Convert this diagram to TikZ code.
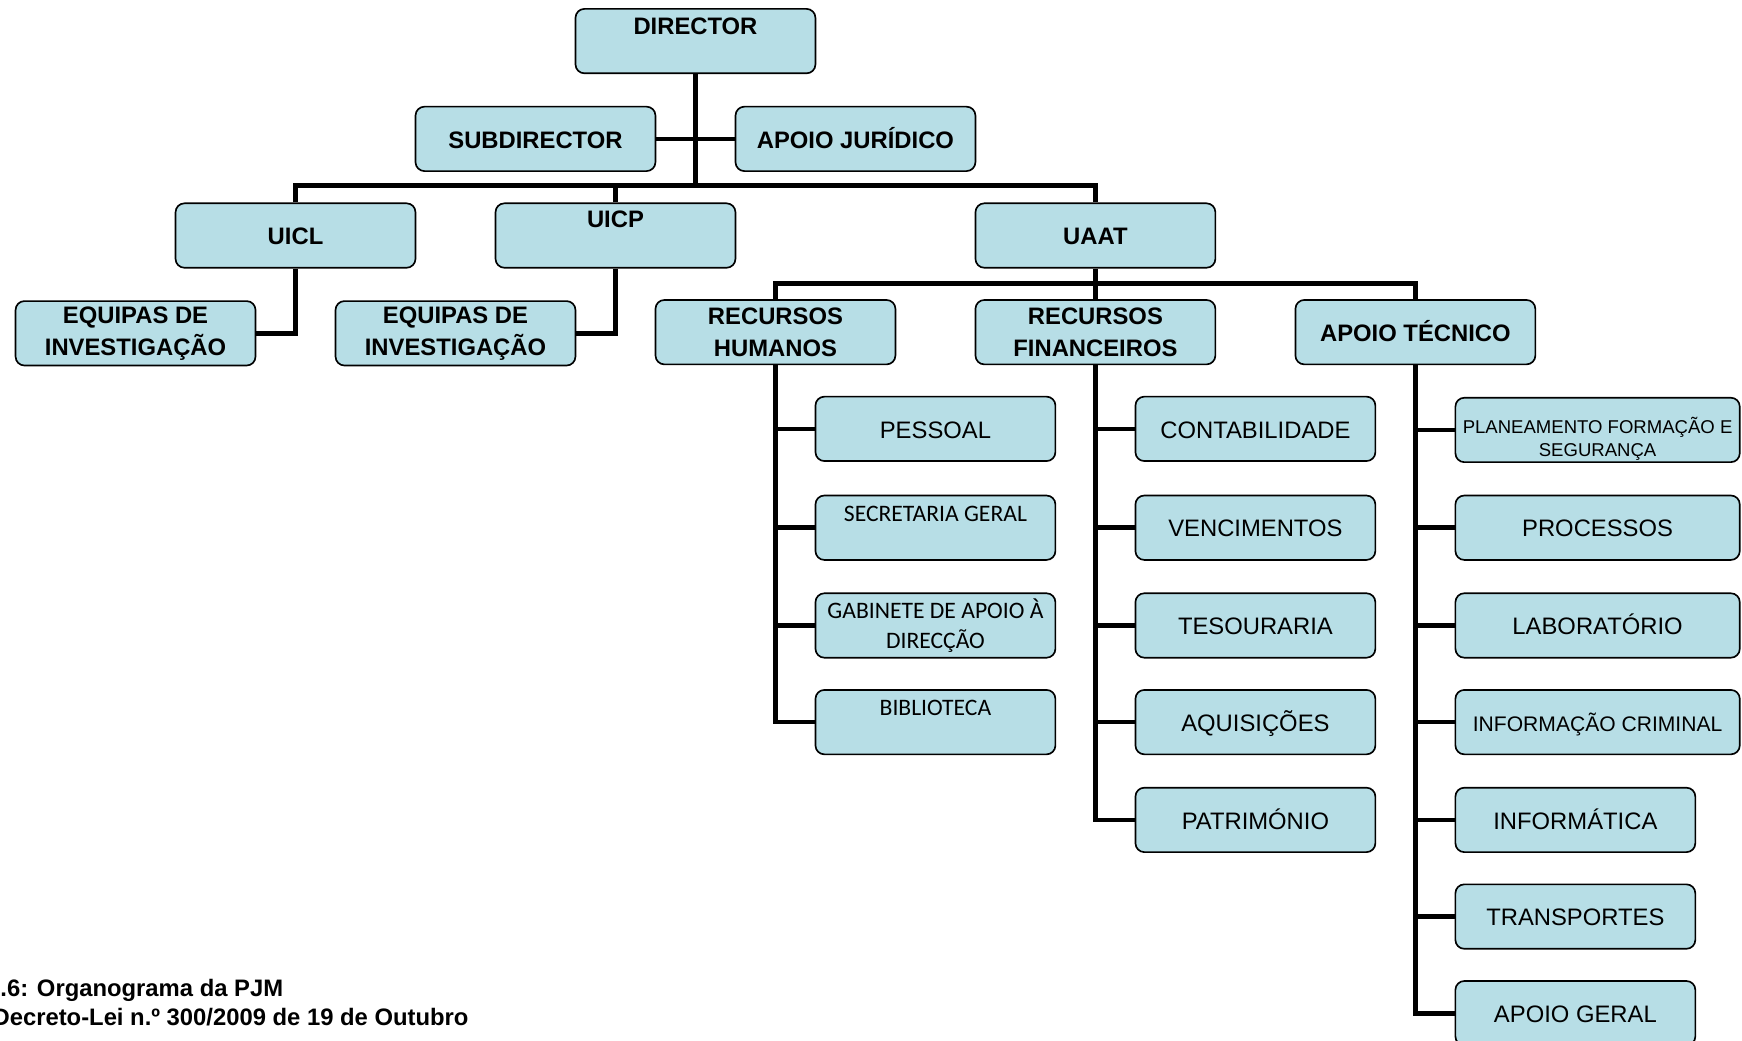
\documentclass[tikz,border=0pt]{standalone}
\usepackage{fontspec}
\setmainfont{Liberation Sans}
\newfontfamily\calibri{Carlito}
\definecolor{boxblue}{RGB}{183,222,230}

\begin{document}
\begin{tikzpicture}[x = 0.02cm, y = -0.02cm]
\tikzstyle{Box}=[draw, line width = 0.85pt, fill = boxblue, rounded corners = 0.16cm,
                 minimum width = 4.32cm, minimum height = 1.16cm,
                 inner sep = 1pt, align = center,
                 text height = 0.95em, text depth = 0pt,
                 font = \fontsize{12.2}{16.4}\selectfont]
\tikzstyle{TwoLines}=[text height = {}, text depth = {}]
\tikzstyle{BoldBox}=[Box, font = \bfseries\fontsize{12.2}{16.4}\selectfont]
\tikzstyle{WideBox}=[Box, minimum width = 5.12cm]
\tikzstyle{CalBox}=[Box, font = \calibri\fontsize{12.1}{15.3}\selectfont]
\tikzstyle{BoldTop}=[anchor = base, inner sep = 0pt, font = \bfseries\fontsize{12.2}{16.4}\selectfont]
\tikzstyle{CalTop}=[anchor = base, inner sep = 0pt, font = \calibri\fontsize{12.1}{15.3}\selectfont]
\tikzstyle{Caption}=[anchor = base west, inner sep = 0pt, font = \bfseries\fontsize{12.2}{14}\selectfont]
\tikzstyle{Link}=[line width = 2.4pt]
\useasboundingbox (0,0) rectangle (1568,937);
\clip (0,0) rectangle (1568,937);

\node[BoldBox] (dir) at (626,37) {};
\node[BoldTop] (dirtext) at ([yshift=-0.47cm]dir.north) {DIRECTOR};
\node[BoldBox] (sub) at (482,125) {SUBDIRECTOR};
\node[BoldBox] (jur) at (770,125) {APOIO JURÍDICO};
\node[BoldBox] (uicl) at (266,212) {UICL};
\node[BoldBox] (uicp) at (554,212) {};
\node[BoldTop] (uicptext) at ([yshift=-0.455cm]uicp.north) {UICP};
\node[BoldBox] (uaat) at (986,212) {UAAT};
\node[BoldBox, TwoLines] (eq1) at (122,300) {EQUIPAS DE\\INVESTIGAÇÃO};
\node[BoldBox, TwoLines] (eq2) at (410,300) {EQUIPAS DE\\INVESTIGAÇÃO};
\node[BoldBox, TwoLines] (rh) at (698,299) {RECURSOS\\HUMANOS};
\node[BoldBox, TwoLines] (rf) at (986,299) {RECURSOS\\FINANCEIROS};
\node[BoldBox] (tec) at (1274,299) {APOIO TÉCNICO};

\node[Box] (pessoal) at (842,386) {PESSOAL};
\node[CalBox] (secretaria) at (842,475) {};
\node[CalTop] (secretariatext) at ([yshift=-0.478cm]secretaria.north) {SECRETARIA GERAL};
\node[CalBox, TwoLines] (gabinete) at (842,563) {GABINETE DE APOIO À\\DIRECÇÃO};
\node[CalBox] (biblioteca) at (842,650) {};
\node[CalTop] (bibliotecatext) at ([yshift=-0.478cm]biblioteca.north) {BIBLIOTECA};

\node[Box] (contabilidade) at (1130,386) {CONTABILIDADE};
\node[Box] (vencimentos) at (1130,475) {VENCIMENTOS};
\node[Box] (tesouraria) at (1130,563) {TESOURARIA};
\node[Box] (aquisicoes) at (1130,650) {AQUISIÇÕES};
\node[Box] (patrimonio) at (1130,738) {PATRIMÓNIO};

\node[WideBox] (planeamento) at (1438,387) {};
\node[anchor = north, inner sep = 0pt, align = center, font = \fontsize{9.5}{11.9}\selectfont]
  (planeamentotext) at ([yshift=-0.36cm]planeamento.north) {PLANEAMENTO FORMAÇÃO E\\SEGURANÇA};
\node[WideBox] (processos) at (1438,475) {PROCESSOS};
\node[WideBox] (laboratorio) at (1438,563) {LABORATÓRIO};
\node[WideBox, font = \fontsize{10.8}{13}\selectfont] (informacao) at (1438,650) {INFORMAÇÃO CRIMINAL};
\node[Box] (informatica) at (1418,738) {INFORMÁTICA};
\node[Box] (transportes) at (1418,825) {TRANSPORTES};
\node[Box] (apoiogeral) at (1418,912) {APOIO GERAL};

\node[Caption] (figura) at (0,897) {.6: Organograma da PJM};
\node[Caption] (fonte) at (-7,923) {Decreto-Lei n.º 300/2009 de 19 de Outubro};

\coordinate (bus1) at (626,167);
\coordinate (bus2) at (986,255);
\draw[Link] (dir.south) -- (bus1);
\draw[Link] (sub.east) -- (jur.west);
\draw[Link] (uicl.north) |- (bus1) -| (uaat.north);
\draw[Link] (uicp.north) -- (uicp.north |- bus1);
\draw[Link] (uicl.south) |- (eq1.east);
\draw[Link] (uicp.south) |- (eq2.east);
\draw[Link] (uaat.south) -- (rf.north);
\draw[Link] (rh.north) |- (bus2) -| (tec.north);
\draw[Link] (rh.south) |- (biblioteca.west);
\foreach \n in {pessoal, secretaria, gabinete}
  \draw[Link] (rh.south |- \n.west) -- (\n.west);
\draw[Link] (rf.south) |- (patrimonio.west);
\foreach \n in {contabilidade, vencimentos, tesouraria, aquisicoes}
  \draw[Link] (rf.south |- \n.west) -- (\n.west);
\draw[Link] (tec.south) |- (apoiogeral.west);
\foreach \n in {planeamento, processos, laboratorio, informacao, informatica, transportes}
  \draw[Link] (tec.south |- \n.west) -- (\n.west);
\end{tikzpicture}
\end{document}
